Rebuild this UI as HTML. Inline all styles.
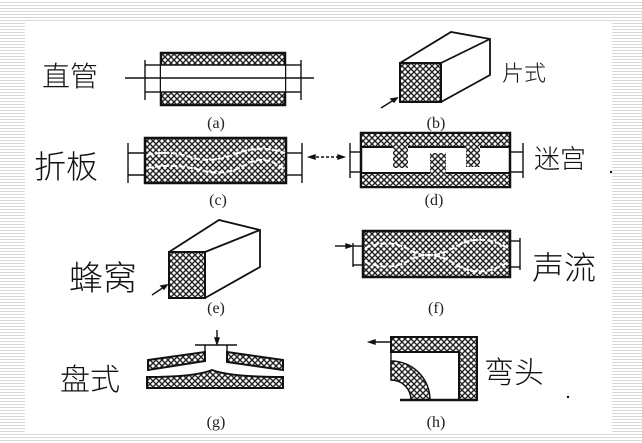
<!DOCTYPE html>
<html><head><meta charset="utf-8"><style>
html,body{margin:0;padding:0}
body{width:642px;height:443px;overflow:hidden;background:repeating-linear-gradient(to bottom,#fff 0,#fff 2px,#d8d8d8 2px,#d8d8d8 3px)}
svg{position:absolute;left:0;top:0}
.hw{font-family:"Liberation Sans","Noto Sans CJK SC",sans-serif;font-weight:300;fill:#111}
.lb{font-family:"Liberation Serif",serif;font-size:16px;fill:#222;text-anchor:middle}
</style></head><body>
<svg width="642" height="443" viewBox="0 0 642 443">
<defs>
<pattern id="h" width="6" height="6" patternUnits="userSpaceOnUse">
<rect width="6" height="6" fill="#fff"/>
<path d="M0 0L6 6M6 0L0 6" stroke="#222" stroke-width="1.4"/>
</pattern>
</defs>
<rect x="25" y="22" width="587" height="411" fill="#fff"/>
<g stroke="#111" stroke-width="1.4" fill="none">
<!-- a -->
<rect x="161" y="53" width="124" height="52" fill="url(#h)" stroke-width="2.5"/>
<rect x="161" y="65" width="124" height="27" fill="#fff" stroke="none"/>
<line x1="161" y1="65" x2="285" y2="65"/><line x1="161" y1="92" x2="285" y2="92"/>
<line x1="145" y1="60" x2="145" y2="100"/><line x1="145" y1="65" x2="161" y2="65"/><line x1="145" y1="92" x2="161" y2="92"/>
<line x1="301" y1="60" x2="301" y2="100"/><line x1="285" y1="65" x2="301" y2="65"/><line x1="285" y1="92" x2="301" y2="92"/>
<line x1="125" y1="78" x2="314" y2="78"/>
<!-- b -->
<rect x="400" y="63" width="41" height="39" fill="url(#h)" stroke-width="2"/>
<path d="M400 63L451 32L490 39L490 75L441 102M441 63L490 39" stroke-width="1.8"/>
<path d="M381 108L397 98"/><path d="M397 98l-6 1l3 3z" fill="#111"/>
<!-- c -->
<rect x="145" y="138" width="141" height="45" fill="url(#h)" stroke-width="2.5"/>
<path d="M147 155Q170 150 190 157T235 154T285 153" stroke="#fff" stroke-width="2" stroke-dasharray="6 2"/>
<path d="M147 168Q175 163 200 170T245 165T285 170" stroke="#fff" stroke-width="2" stroke-dasharray="6 2"/>
<line x1="128" y1="143" x2="128" y2="183"/><line x1="128" y1="153" x2="145" y2="153"/><line x1="128" y1="175" x2="145" y2="175"/>
<line x1="302" y1="143" x2="302" y2="183"/><line x1="286" y1="153" x2="302" y2="153"/><line x1="286" y1="175" x2="302" y2="175"/>
<line x1="311" y1="157" x2="342" y2="157" stroke-dasharray="3 2"/>
<path d="M309 157l6-2v4zM344 157l-6-2v4z" fill="#111"/>
<!-- d -->
<rect x="361" y="133" width="149" height="54" fill="#fff" stroke-width="2.5"/>
<rect x="361" y="133" width="149" height="14" fill="url(#h)" stroke-width="2"/>
<rect x="361" y="173" width="149" height="14" fill="url(#h)" stroke-width="2"/>
<rect x="393" y="146" width="15" height="22" fill="url(#h)" stroke="none"/>
<rect x="430" y="153" width="16" height="21" fill="url(#h)" stroke="none"/>
<rect x="466" y="146" width="14" height="21" fill="url(#h)" stroke="none"/>
<line x1="350" y1="143" x2="350" y2="178"/><line x1="350" y1="152" x2="361" y2="152"/><line x1="350" y1="172" x2="361" y2="172"/>
<line x1="523" y1="143" x2="523" y2="178"/><line x1="510" y1="152" x2="523" y2="152"/><line x1="510" y1="172" x2="523" y2="172"/>
<!-- e -->
<rect x="169" y="252" width="36" height="46" fill="url(#h)" stroke-width="2"/>
<path d="M169 252L219 220L260 230L260 267L205 298M205 252L260 230" stroke-width="1.8"/>
<path d="M152 295L167 285"/><path d="M167 285l-6 1l3 3z" fill="#111"/>
<!-- f -->
<rect x="363" y="231" width="147" height="46" fill="url(#h)" stroke-width="2.5"/>
<path d="M365 248Q390 238 410 250T455 247T508 248" stroke="#fff" stroke-width="2" stroke-dasharray="6 2"/>
<path d="M365 262Q390 272 410 260T455 264T508 262" stroke="#fff" stroke-width="2" stroke-dasharray="6 2"/>
<line x1="353" y1="243" x2="353" y2="267"/><line x1="353" y1="246" x2="363" y2="246"/><line x1="353" y1="265" x2="363" y2="265"/>
<line x1="335" y1="246" x2="350" y2="246"/><path d="M352 246l-6-2v4z" fill="#111"/>
<line x1="520" y1="238" x2="520" y2="270"/><line x1="510" y1="241" x2="520" y2="241"/><line x1="510" y1="267" x2="520" y2="267"/>
<!-- g -->
<line x1="195" y1="345" x2="237" y2="345"/>
<line x1="217" y1="330" x2="217" y2="342"/><path d="M217 344l-2-6h4z" fill="#111"/>
<line x1="205" y1="345" x2="205" y2="353"/><line x1="227" y1="345" x2="227" y2="353"/>
<path d="M148 360L205 352L205 361L148 370Z" fill="url(#h)" stroke-width="2"/>
<path d="M227 352L283 360L283 370L227 362Z" fill="url(#h)" stroke-width="2"/>
<path d="M147 377Q195 377 212 370Q230 377 283 377L283 388L147 388Z" fill="url(#h)" stroke-width="2"/>
<!-- h -->
<path d="M391 337L477 337L477 400L459 400L459 352L391 352Z" fill="url(#h)" stroke-width="2"/>
<line x1="391" y1="337" x2="391" y2="372"/>
<line x1="371" y1="342" x2="391" y2="342"/><path d="M369 342l6-2v4z" fill="#111"/>
<path d="M391 361A39 39 0 0 1 430 400L411 400A20 20 0 0 0 391 380Z" fill="url(#h)" stroke-width="1.5"/>
<line x1="400" y1="400" x2="477" y2="400" stroke-width="2.5"/>
</g>
<g class="lb">
<text x="216" y="128">(a)</text><text x="436" y="128">(b)</text>
<text x="218" y="205">(c)</text><text x="434" y="205">(d)</text>
<text x="216" y="313">(e)</text><text x="436" y="313">(f)</text>
<text x="216" y="427">(g)</text><text x="436" y="427">(h)</text>
</g>
<g class="hw">
<text x="42" y="86" font-size="28">直管</text>
<text x="502" y="81" font-size="22">片式</text>
<text x="34" y="178" font-size="32">折板</text>
<text x="534" y="168" font-size="26">迷宫</text>
<text x="69" y="290" font-size="34">蜂窝</text>
<text x="532" y="279" font-size="32">声流</text>
<text x="60" y="390" font-size="30">盘式</text>
<text x="484" y="383" font-size="30">弯头</text>
</g>
<circle cx="611" cy="172" r="1.2" fill="#111"/>
<circle cx="568" cy="397" r="1.2" fill="#111"/>
</svg>
</body></html>
